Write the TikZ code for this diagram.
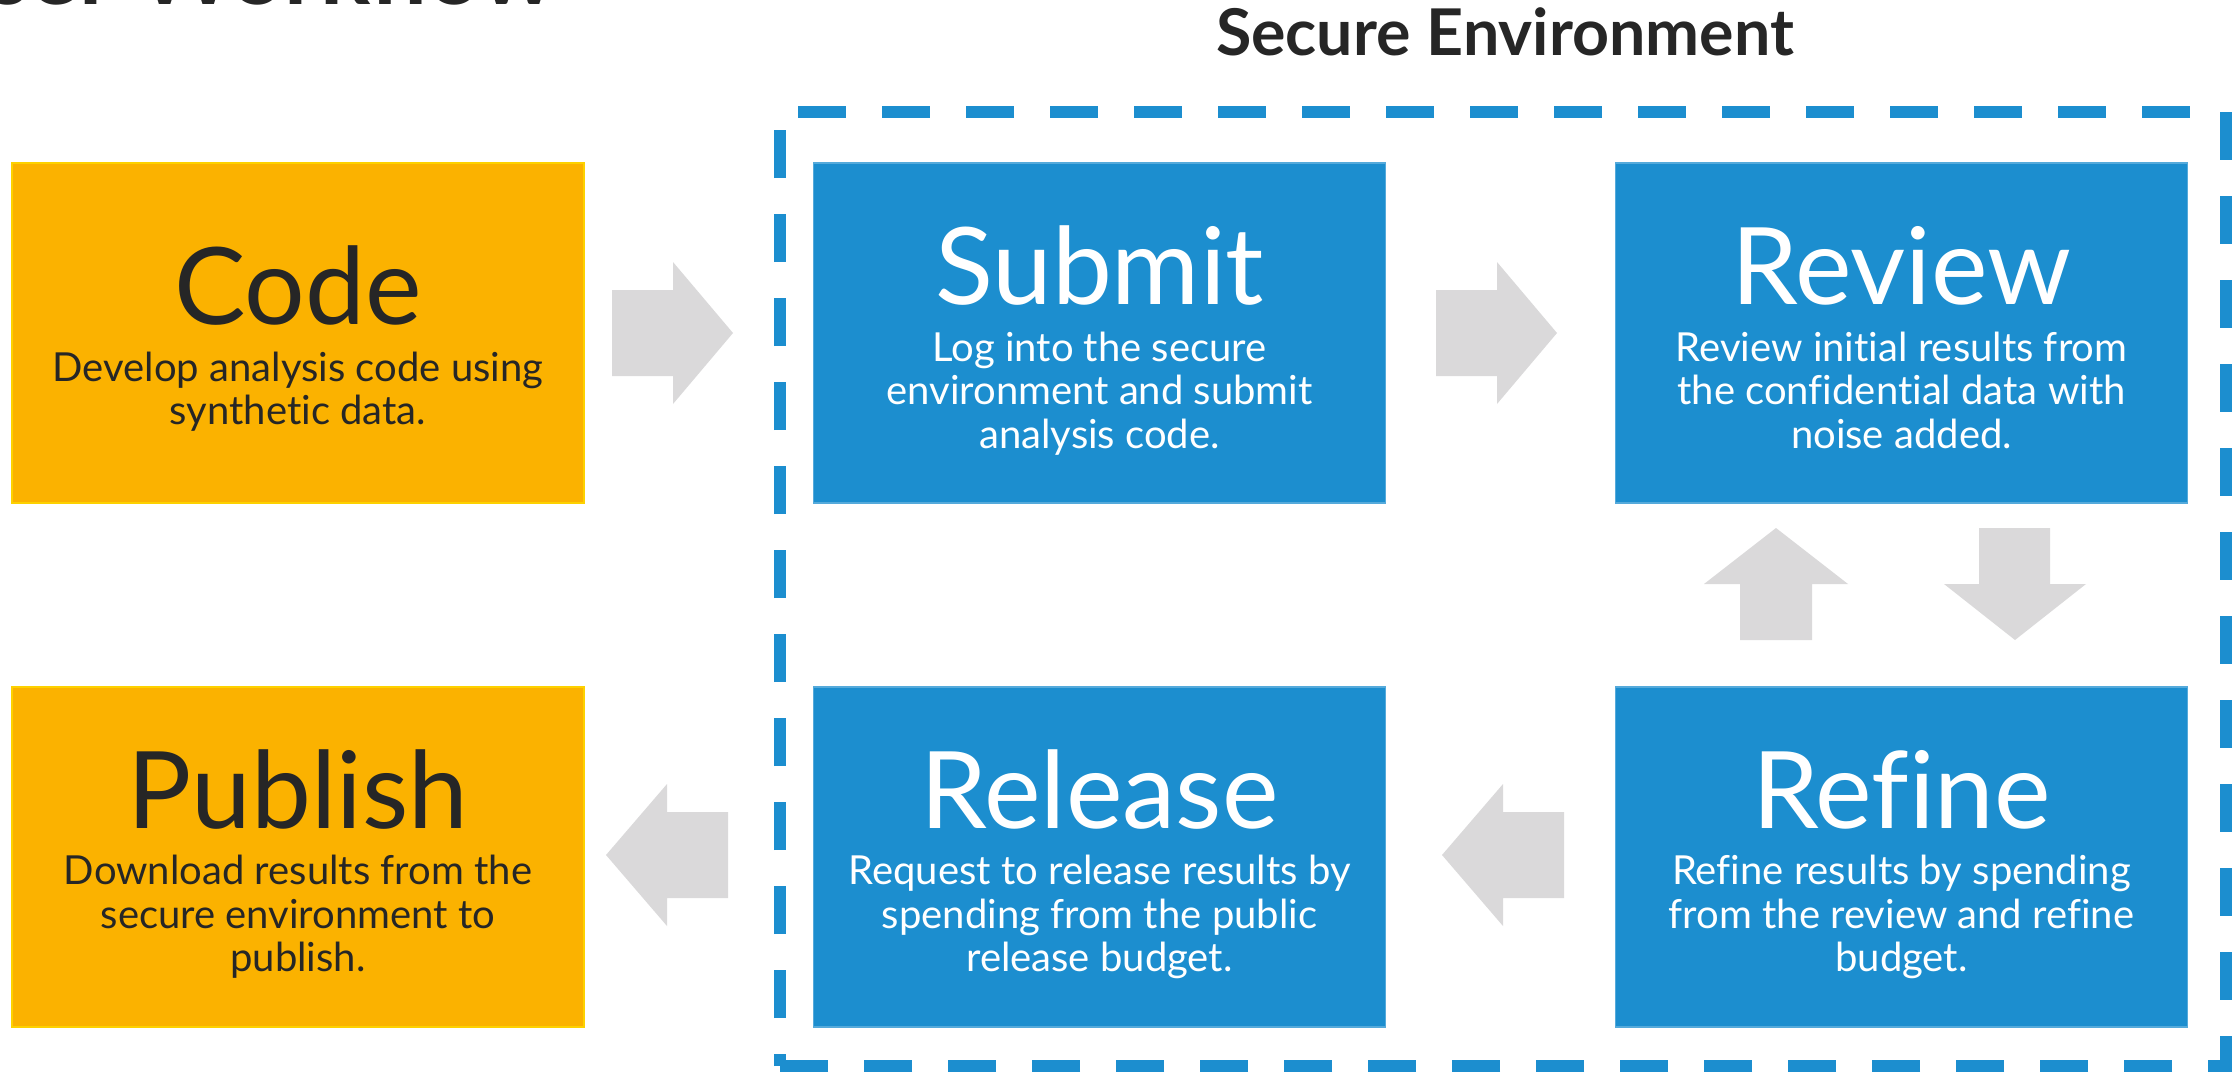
\documentclass[tikz,border=0pt]{standalone}
\usepackage{fontspec}
\setmainfont{Lato}[Ligatures=NoCommon]
\definecolor{stepblue}{HTML}{1C8ECF}
\definecolor{stepgold}{HTML}{FBB200}
\definecolor{flowgray}{HTML}{DAD9DA}
\definecolor{inkdark}{HTML}{262626}
% fixed line height for the box descriptions
\newcommand\blurbstrut{\vrule height 34pt depth 9.5pt width 0pt}
\tikzset{
  box/.style={rectangle, inner sep=0pt, minimum width=572pt, minimum height=340pt, line width=1.5pt},
  bluebox/.style={box, fill=stepblue, draw=stepblue!75!white},
  goldbox/.style={box, fill=stepgold, draw=stepgold!60!yellow},
  heading/.style={anchor=base, inner sep=0pt, font=\fontsize{107}{120}\selectfont},
  blurb/.style={anchor=north, inner sep=0pt, align=center, font=\fontsize{40}{43.5}\selectfont},
  flow/.style={fill=flowgray},
  secure/.style={draw=stepblue, line width=12pt, line cap=butt, line join=miter,
                 dash pattern=on 48pt off 36pt, dash phase=36pt},
}
\begin{document}
\begin{tikzpicture}[x=1pt, y=-1pt]
  \useasboundingbox (0,0) rectangle (2239,1072);
  \clip (0,0) rectangle (2239,1072);

  % page heading, running off the top edge
  \node[anchor=base east, inner sep=0pt, text=inkdark,
        font=\bfseries\fontsize{94}{100}\selectfont] (wftitle) at (556,4) {User Workflow};

  % secure environment frame and its title
  \draw[secure] (780,1066) -- (780,112) -- (2226,112) -- (2226,1066) -- (780,1066);
  \node[anchor=base, inner sep=0pt, text=inkdark,
        font=\bfseries\fontsize{64.5}{70}\selectfont] (envtitle) at (1505,55) {Secure Environment};

  % step boxes
  \node[goldbox] (code)    at (298,333)    {};
  \node[bluebox] (submit)  at (1099.5,333) {};
  \node[bluebox] (review)  at (1901.5,333) {};
  \node[goldbox] (publish) at (298,857)    {};
  \node[bluebox] (release) at (1099.5,857) {};
  \node[bluebox] (refine)  at (1901.5,857) {};

  % step texts
  \node[heading, text=inkdark] (codeT) at (298,324) {Code};
  \node[blurb, text=inkdark] (codeB) at (298,347)
    {\blurbstrut Develop analysis code using\\ \blurbstrut synthetic data.};

  \node[heading, text=white] (submitT) at (1099.5,304) {Submit};
  \node[blurb, text=white] (submitB) at (1099.5,327)
    {\blurbstrut Log into the secure\\ \blurbstrut environment and submit\\ \blurbstrut analysis code.};

  \node[heading, text=white] (reviewT) at (1901.5,304) {Review};
  \node[blurb, text=white] (reviewB) at (1901.5,327)
    {\blurbstrut Review initial results from\\ \blurbstrut the confidential data with\\ \blurbstrut noise added.};

  \node[heading, text=inkdark] (publishT) at (298,828) {Publish};
  \node[blurb, text=inkdark] (publishB) at (298,850.5)
    {\blurbstrut Download results from the\\ \blurbstrut secure environment to\\ \blurbstrut publish.};

  \node[heading, text=white] (releaseT) at (1099.5,828) {Release};
  \node[blurb, text=white] (releaseB) at (1099.5,850.5)
    {\blurbstrut Request to release results by\\ \blurbstrut spending from the public\\ \blurbstrut release budget.};

  \node[heading, text=white] (refineT) at (1901.5,828) {Refine};
  \node[blurb, text=white] (refineB) at (1901.5,850.5)
    {\blurbstrut Refine results by spending\\ \blurbstrut from the review and refine\\ \blurbstrut budget.};

  % block arrows between the steps
  % code -> submit
  \fill[flow] (612,290) -- (673,290) -- (673,262) -- (733,333) -- (673,404) -- (673,376) -- (612,376) -- cycle;
  % submit -> review
  \fill[flow] (1436,290) -- (1497,290) -- (1497,262) -- (1557,333) -- (1497,404) -- (1497,376) -- (1436,376) -- cycle;
  % refine -> review (up)
  \fill[flow] (1740,640) -- (1740,584) -- (1704,584) -- (1776,528) -- (1848,584) -- (1812,584) -- (1812,640) -- cycle;
  % review -> refine (down)
  \fill[flow] (1979,528) -- (2050,528) -- (2050,584) -- (2086,584) -- (2015,640) -- (1944,584) -- (1979,584) -- cycle;
  % refine -> release
  \fill[flow] (1564,812) -- (1503,812) -- (1503,784) -- (1442,855) -- (1503,926) -- (1503,898) -- (1564,898) -- cycle;
  % release -> publish
  \fill[flow] (728,812) -- (667,812) -- (667,784) -- (606,855) -- (667,926) -- (667,898) -- (728,898) -- cycle;
\end{tikzpicture}
\end{document}
